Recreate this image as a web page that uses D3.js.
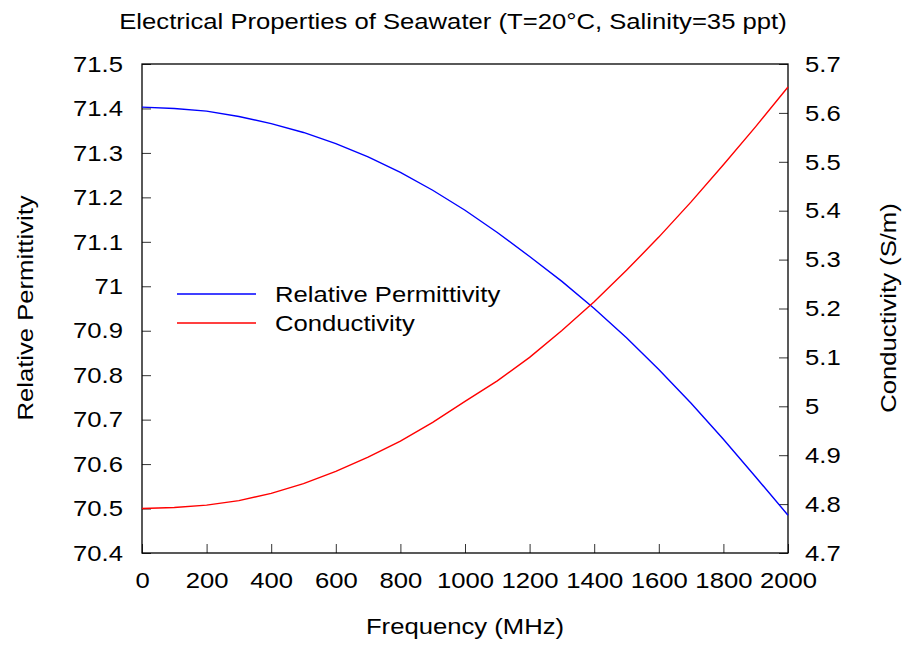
<!DOCTYPE html>
<html>
<head>
<meta charset="utf-8">
<script src="https://cdn.jsdelivr.net/npm/d3@7"></script>
<style>
  html, body { margin: 0; padding: 0; background: #fff; }
  svg { display: block; font-family: "Liberation Sans", Arial, Helvetica, sans-serif; }
</style>
</head>
<body>
<svg id="chart" width="904" height="645"></svg>
<script>
// Frequency samples (MHz)
const frequency = [0, 100, 200, 300, 400, 500, 600, 700, 800, 900, 1000,
                   1100, 1200, 1300, 1400, 1500, 1600, 1700, 1800, 1900, 2000];
// Relative permittivity of seawater
const permittivity = [71.403, 71.400, 71.394, 71.382, 71.366, 71.346, 71.321, 71.291, 71.256, 71.216, 71.171,
                      71.121, 71.067, 71.011, 70.950, 70.884, 70.813, 70.737, 70.656, 70.571, 70.485];
// Conductivity (S/m)
const conductivity = [4.791, 4.793, 4.798, 4.807, 4.822, 4.842, 4.867, 4.896, 4.929, 4.967, 5.010,
                      5.052, 5.100, 5.155, 5.214, 5.278, 5.346, 5.418, 5.494, 5.572, 5.653];

const xTicks = [0, 200, 400, 600, 800, 1000, 1200, 1400, 1600, 1800, 2000];
const yLeftTicks = [70.4, 70.5, 70.6, 70.7, 70.8, 70.9, 71.0, 71.1, 71.2, 71.3, 71.4, 71.5];
const yRightTicks = [4.7, 4.8, 4.9, 5.0, 5.1, 5.2, 5.3, 5.4, 5.5, 5.6, 5.7];

const titleText = "Electrical Properties of Seawater (T=20\u00B0C, Salinity=35 ppt)";
const xLabel = "Frequency (MHz)";
const yLeftLabel = "Relative Permittivity";
const yRightLabel = "Conductivity (S/m)";
const seriesNames = ["Relative Permittivity", "Conductivity"];
const seriesColors = ["#0000ff", "#ff0000"];

const svg = d3.select("#chart");
const L = 142, R = 788, T = 64, B = 553;

const x = d3.scaleLinear().domain([0, 2000]).range([L, R]);
const yL = d3.scaleLinear().domain([70.4, 71.5]).range([B, T]);
const yR = d3.scaleLinear().domain([4.7, 5.7]).range([B, T]);

const fontSize = 22.5;
const widen = 1.14;   // glyphs are drawn a little wider than the stock face
const tickLen = 9;
const fmt = v => d3.format("")(+v.toFixed(1));

// Bottom axis
const gx = svg.append("g").attr("transform", `translate(0,${B})`)
  .call(d3.axisBottom(x).tickValues(xTicks).tickSize(-tickLen).tickPadding(19).tickFormat(d => d));

// Left axis
const gyl = svg.append("g").attr("transform", `translate(${L},0)`)
  .call(d3.axisLeft(yL).tickValues(yLeftTicks).tickSize(-tickLen).tickPadding(19).tickFormat(fmt));

// Right axis
const gyr = svg.append("g").attr("transform", `translate(${R},0)`)
  .call(d3.axisRight(yR).tickValues(yRightTicks).tickSize(-tickLen).tickPadding(17).tickFormat(fmt));

[gx, gyl, gyr].forEach(g => {
  g.select(".domain").remove();
  g.selectAll(".tick line").attr("stroke", "#333").attr("stroke-width", 1);
  g.selectAll(".tick text").attr("font-size", fontSize).attr("fill", "#000")
    .attr("font-family", "Liberation Sans, Arial, Helvetica, sans-serif");
});

// Plot frame
svg.append("rect").attr("x", L).attr("y", T).attr("width", R - L).attr("height", B - T)
  .attr("fill", "none").attr("stroke", "#000").attr("stroke-width", 1.3);

// Curves
const pts = frequency.map((f, i) => ({ f, p: permittivity[i], c: conductivity[i] }));
svg.append("path").datum(pts)
  .attr("d", d3.line().x(d => x(d.f)).y(d => yL(d.p)))
  .attr("fill", "none").attr("stroke", seriesColors[0]).attr("stroke-width", 1.4);
svg.append("path").datum(pts)
  .attr("d", d3.line().x(d => x(d.f)).y(d => yR(d.c)))
  .attr("fill", "none").attr("stroke", seriesColors[1]).attr("stroke-width", 1.4);

// Legend
const legend = svg.append("g");
seriesNames.forEach((name, i) => {
  const ly = 294 + i * 29;
  legend.append("line").attr("x1", 177).attr("x2", 256).attr("y1", ly).attr("y2", ly)
    .attr("stroke", seriesColors[i]).attr("stroke-width", 1.4);
  legend.append("text").attr("x", 275).attr("y", ly).attr("dy", "0.35em")
    .attr("font-size", fontSize).text(name);
});

// Title and axis labels
svg.append("text").attr("x", 453).attr("y", 29).attr("text-anchor", "middle")
  .attr("font-size", fontSize).text(titleText);
svg.append("text").attr("x", 465).attr("y", 634).attr("text-anchor", "middle")
  .attr("font-size", fontSize).text(xLabel);
svg.append("text").attr("transform", `translate(33,${308}) rotate(-90)`)
  .attr("text-anchor", "middle").attr("font-size", fontSize).text(yLeftLabel);
svg.append("text").attr("transform", `translate(896,${308}) rotate(-90)`)
  .attr("text-anchor", "middle").attr("font-size", fontSize).text(yRightLabel);

// Widen every label slightly
svg.selectAll("text").each(function () {
  const w = this.getComputedTextLength();
  d3.select(this).attr("textLength", w * widen).attr("lengthAdjust", "spacingAndGlyphs");
});
</script>
</body>
</html>
